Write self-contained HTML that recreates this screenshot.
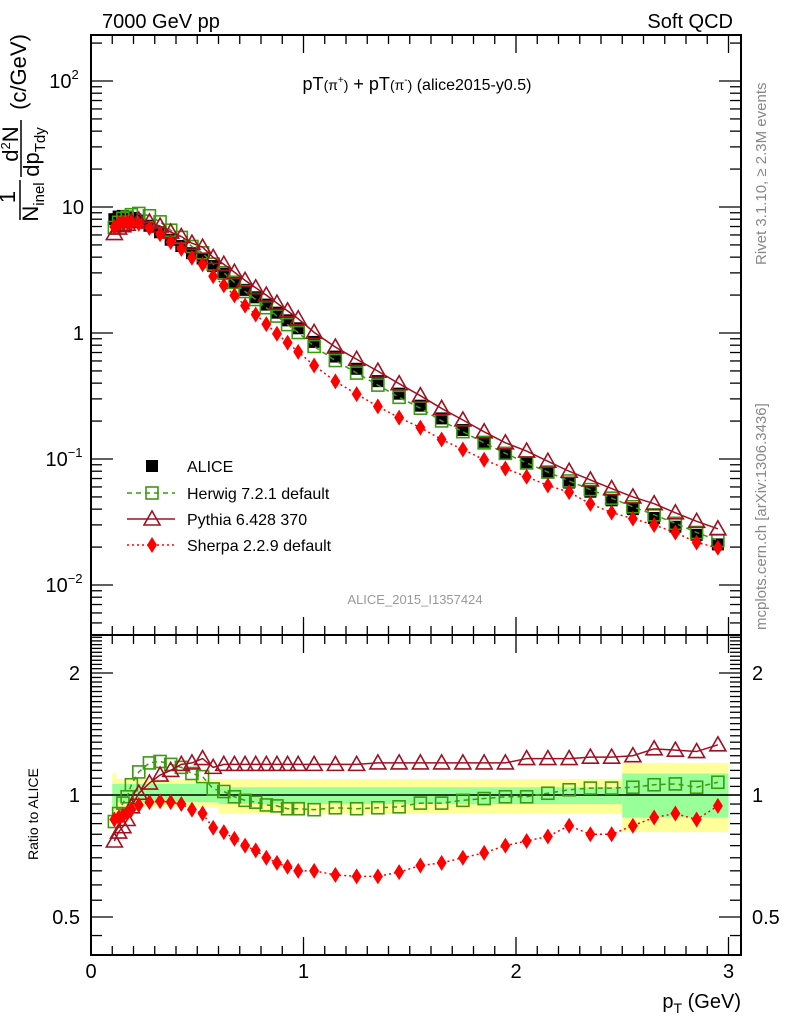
<!DOCTYPE html>
<html><head><meta charset="utf-8"><style>
html,body{margin:0;padding:0;background:#fff;}
svg{display:block;font-family:"Liberation Sans",sans-serif;}
</style></head><body>
<svg id="c" width="786" height="1024" viewBox="0 0 786 1024" xmlns="http://www.w3.org/2000/svg">
<text x="102" y="28" font-size="20">7000 GeV pp</text>
<text x="733" y="28" font-size="20" text-anchor="end">Soft QCD</text>
<text x="417" y="90" font-size="18" text-anchor="middle">pT<tspan font-size="14">(π</tspan><tspan font-size="10" dy="-7">+</tspan><tspan font-size="14" dy="7">)</tspan> + pT<tspan font-size="14">(π</tspan><tspan font-size="10" dy="-7">-</tspan><tspan font-size="14" dy="7">)</tspan><tspan font-size="16"> (alice2015-y0.5)</tspan></text>
<text x="415" y="604" font-size="13" fill="#999" text-anchor="middle">ALICE_2015_I1357424</text>
<text transform="translate(766,265) rotate(-90)" font-size="15" fill="#888">Rivet 3.1.10, ≥ 2.3M events</text>
<text transform="translate(766,630) rotate(-90)" font-size="15" fill="#888">mcplots.cern.ch [arXiv:1306.3436]</text>
<g font-size="22" text-anchor="middle">
<text transform="translate(15,197) rotate(-90)">1</text>
<line x1="20" y1="220" x2="20" y2="180" stroke="#000" stroke-width="1.5"/>
<text transform="translate(38,202) rotate(-90)">N<tspan font-size="15" dy="6">inel</tspan></text>
<text transform="translate(18,144) rotate(-90)">d<tspan font-size="13" dy="-8">2</tspan><tspan dy="8">N</tspan></text>
<line x1="21" y1="177" x2="21" y2="120" stroke="#000" stroke-width="1.5"/>
<text transform="translate(39,152) rotate(-90)">dp<tspan font-size="15" dy="6">Tdy</tspan></text>
<text transform="translate(26,72) rotate(-90)" font-size="22">(c/GeV)</text>
</g>
<text transform="translate(38,860) rotate(-90)" font-size="14">Ratio to ALICE</text>
<text x="741" y="1008" font-size="20" text-anchor="end">p<tspan font-size="14" dy="5">T</tspan><tspan dy="-5"> (GeV)</tspan></text>
<g id="g"></g>
</svg>
<script>
const pt=[0.11,0.13,0.15,0.17,0.19,0.225,0.275,0.325,0.375,0.425,0.475,0.525,0.575,0.625,0.675,0.725,0.775,0.825,0.875,0.925,0.975,1.05,1.15,1.25,1.35,1.45,1.55,1.65,1.75,1.85,1.95,2.05,2.15,2.25,2.35,2.45,2.55,2.65,2.75,2.85,2.95];
const alice=[8.0,8.4,8.5,8.4,8.2,7.8,7.1,6.3,5.5,4.9,4.3,3.9,3.4,2.95,2.55,2.2,1.92,1.68,1.45,1.26,1.09,0.85,0.65,0.52,0.415,0.33,0.265,0.21,0.17,0.137,0.112,0.094,0.078,0.065,0.055,0.047,0.040,0.034,0.029,0.025,0.021];
const herwigR=[0.86,0.9,0.955,0.99,1.06,1.14,1.2,1.21,1.19,1.17,1.13,1.11,1.035,1.02,0.99,0.97,0.96,0.945,0.94,0.925,0.925,0.92,0.93,0.925,0.93,0.935,0.955,0.955,0.97,0.98,0.99,0.99,1.01,1.03,1.04,1.04,1.045,1.06,1.065,1.045,1.075];
const pythiaR=[0.77,0.81,0.835,0.87,0.935,1.01,1.07,1.12,1.15,1.19,1.2,1.23,1.17,1.19,1.19,1.19,1.19,1.19,1.19,1.19,1.19,1.19,1.19,1.19,1.2,1.2,1.2,1.2,1.2,1.2,1.2,1.23,1.23,1.23,1.24,1.24,1.25,1.3,1.29,1.28,1.33];
const sherpaR=[0.87,0.88,0.89,0.9,0.92,0.945,0.96,0.965,0.96,0.95,0.92,0.9,0.83,0.81,0.78,0.75,0.73,0.7,0.68,0.665,0.65,0.65,0.635,0.63,0.63,0.645,0.67,0.68,0.7,0.72,0.75,0.77,0.79,0.84,0.8,0.8,0.84,0.88,0.9,0.87,0.94];
const bandEdges=[0.1,0.12,0.6,2.5,3.0];
const totUp=[1.13,1.095,1.095,1.2];
const totDn=[0.87,0.935,0.9,0.81];
const statUp=[1.065,1.065,1.045,1.13];
const statDn=[0.93,0.96,0.95,0.88];
const xTicks=[0,1,2,3];
const ratioTicks=[0.5,1,2];
const legendNames=["ALICE","Herwig 7.2.1 default","Pythia 6.428 370","Sherpa 2.2.9 default"];

const NS="http://www.w3.org/2000/svg";
const g=document.getElementById('g');
const L=91,R=741,T1=35,B1=635,B2=955;
const X=v=>L+v*212.5;
const Y=v=>333-126*Math.log10(v);
const YR=v=>795-122*Math.log2(v);
function mk(t,a,p){const e=document.createElementNS(NS,t);for(const k in a)e.setAttribute(k,a[k]);(p||g).appendChild(e);return e;}

const bg=mk('g',{});


for(let i=0;i<totUp.length;i++){
  const x0=X(bandEdges[i]),x1=X(bandEdges[i+1]);
  const r=mk('rect',{x:x0,y:YR(totUp[i]),width:x1-x0,height:YR(totDn[i])-YR(totUp[i]),fill:'#ffff99'},bg);
  
  
}
for(let i=0;i<statUp.length;i++){
  const x0=X(bandEdges[i]),x1=X(bandEdges[i+1]);
  const r=mk('rect',{x:x0,y:YR(statUp[i]),width:x1-x0,height:YR(statDn[i])-YR(statUp[i]),fill:'#99ff99'},bg);
  
  
}
mk('line',{x1:L,x2:R,y1:YR(1),y2:YR(1),stroke:'#000','stroke-width':1.5});

const fr=mk('g',{fill:'none',stroke:'#000','stroke-width':2});


mk('rect',{x:L,y:T1,width:R-L,height:B1-T1},fr);
mk('rect',{x:L,y:B1,width:R-L,height:B2-B1},fr);

const tk=mk('g',{stroke:'#000','stroke-width':1.3});
for(let d=-3;d<=2;d++){for(let m=1;m<10;m++){const v=m*Math.pow(10,d);const y=Y(v);if(y<T1||y>B1)continue;const len=m==1?22:11;
 mk('line',{x1:L,x2:L+len,y1:y,y2:y},tk);mk('line',{x1:R,x2:R-len,y1:y,y2:y},tk);}}
for(let v=0;v<=3.05;v+=0.1){const x=X(v);const maj=Math.abs(v-Math.round(v))<1e-6;const len=maj?18:9;
 for(const [yb,dir] of [[B1,-1],[T1,1],[B2,-1],[B1,1]]) mk('line',{x1:x,x2:x,y1:yb,y2:yb+dir*len},tk);}
for(let v=0.45;v<=2.5;v+=0.05){const y=YR(v);if(y<B1||y>B2)continue;const maj=[0.5,1,2].some(t=>Math.abs(t-v)<1e-6);const len=maj?22:11;
 mk('line',{x1:L,x2:L+len,y1:y,y2:y},tk);mk('line',{x1:R,x2:R-len,y1:y,y2:y},tk);}

const tl=mk('g',{'font-size':20});


[[100,'10','2'],[10,'10',''],[1,'1',''],[0.1,'10','−1'],[0.01,'10','−2']].forEach(([v,b,e])=>{
 const t=mk('text',{x:e?64:84,y:Y(v)+7,'text-anchor':e?'middle':'end'},tl);t.textContent=b;
 if(e){const s=mk('tspan',{'font-size':13,dy:-9},t);s.textContent=e;}
});
ratioTicks.forEach(v=>{const s=String(v);
 let t=mk('text',{x:80,y:YR(v)+7,'text-anchor':'end'},tl);t.textContent=s;
 t=mk('text',{x:752,y:YR(v)+7},tl);t.textContent=s;});
xTicks.forEach(v=>{const t=mk('text',{x:X(v),y:978,'text-anchor':'middle'},tl);t.textContent=String(v);});

function marker(type,x,y,p){
 if(type==0) return mk('rect',{x:x-6,y:y-6,width:12,height:12,fill:'#000'},p);
 if(type==1) return mk('rect',{x:x-6,y:y-6,width:12,height:12,fill:'none',stroke:'#3a9a10','stroke-width':1.6},p);
 if(type==2) return mk('path',{d:`M${x} ${y-8}L${x+8} ${y+6}L${x-8} ${y+6}Z`,fill:'none',stroke:'#a01020','stroke-width':1.6},p);
 return mk('path',{d:`M${x} ${y-8}L${x+5} ${y}L${x} ${y+8}L${x-5} ${y}Z`,fill:'#ff0000'},p);
}
const styles=[null,{c:'#3a9a10',d:'5,4',w:1.5},{c:'#a01020',d:'',w:1.5},{c:'#ff0000',d:'2,3',w:1.5}];
const ratios=[null,herwigR,pythiaR,sherpaR];
const names=['alice','herwig','pythia','sherpa'];
const ag=mk('g',{});


pt.forEach((p,i)=>{const m=marker(0,X(p),Y(alice[i]),ag);});
for(let s=1;s<=3;s++){
 const sg=mk('g',{});
 
 
 const mp=pt.map((p,i)=>X(p)+','+Y(alice[i]*ratios[s][i])).join(' ');
 const rp=pt.map((p,i)=>X(p)+','+YR(ratios[s][i])).join(' ');
 mk('polyline',{points:mp,fill:'none',stroke:styles[s].c,'stroke-width':styles[s].w,'stroke-dasharray':styles[s].d},sg);
 mk('polyline',{points:rp,fill:'none',stroke:styles[s].c,'stroke-width':styles[s].w,'stroke-dasharray':styles[s].d},sg);
 pt.forEach((p,i)=>{marker(s,X(p),Y(alice[i]*ratios[s][i]),sg);marker(s,X(p),YR(ratios[s][i]),sg);});
}

const lg=mk('g',{'font-size':16});


const ly=[466,493,519,545];
legendNames.forEach((n,i)=>{
 const e=mk('g',{},lg);
 
 
 if(i>0) mk('line',{x1:127,x2:175,y1:ly[i],y2:ly[i],stroke:styles[i].c,'stroke-width':1.5,'stroke-dasharray':styles[i].d},e);
 marker(i,152,ly[i],e);
 const t=mk('text',{x:187,y:ly[i]+6},e);t.textContent=n;
});
</script>
</body></html>
